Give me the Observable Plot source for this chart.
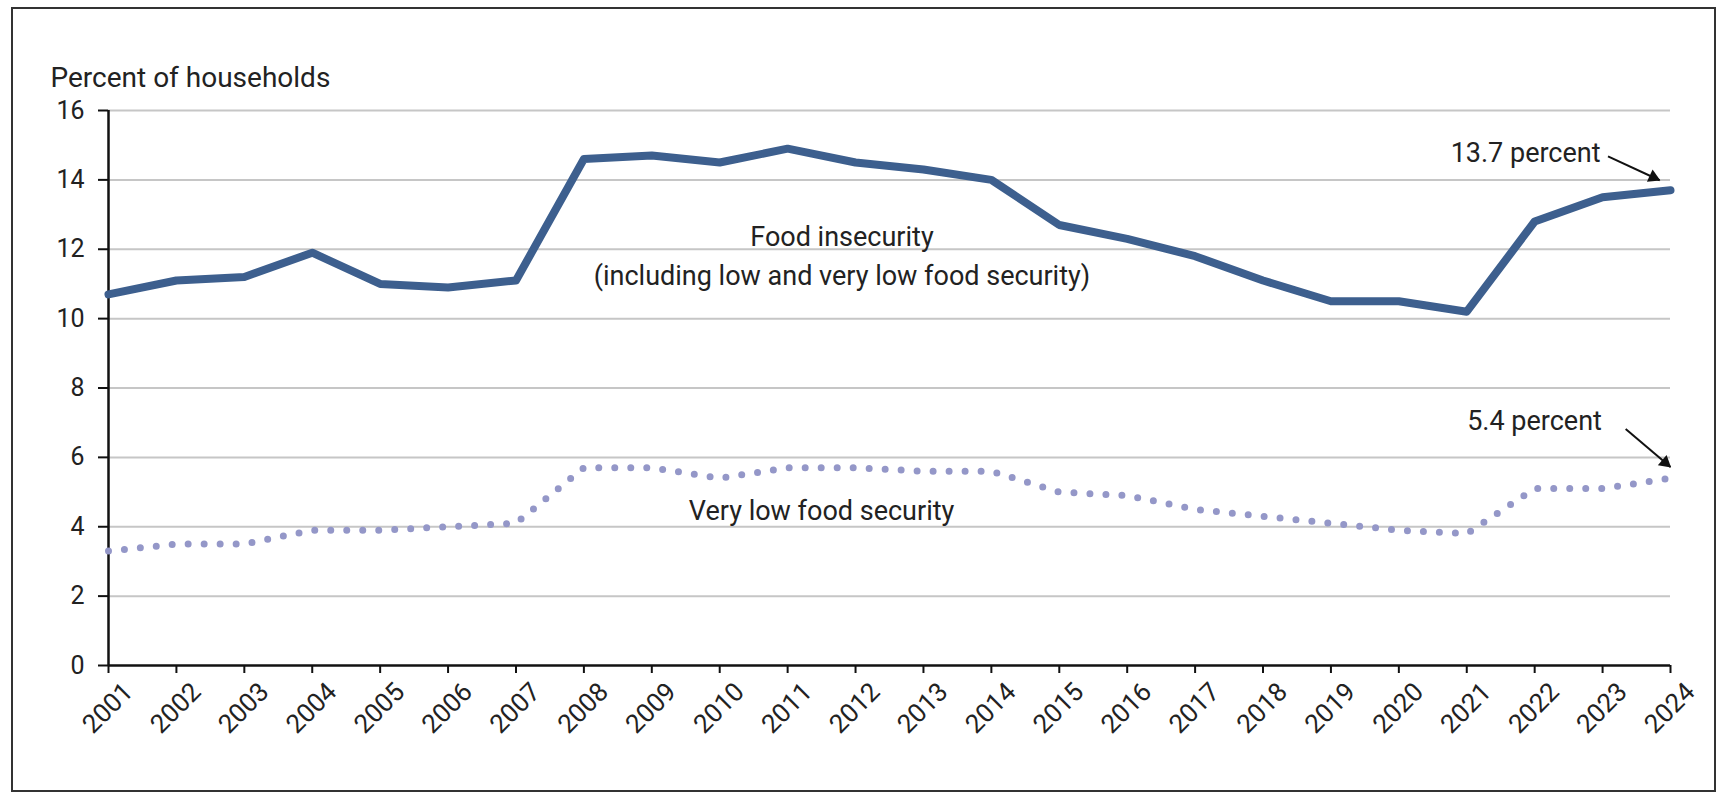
<!DOCTYPE html>
<html>
<head>
<meta charset="utf-8">
<script src="https://cdn.jsdelivr.net/npm/d3@7"></script>
<script src="https://cdn.jsdelivr.net/npm/@observablehq/plot@0.6"></script>
<style>
  html, body { margin: 0; padding: 0; background: #fff; }
  #wrap { position: relative; width: 1725px; height: 796px; overflow: hidden; }
  #border { position: absolute; left: 11px; top: 7px; width: 1705px; height: 785px; border: 2.5px solid #333; box-sizing: border-box; pointer-events: none; }
</style>
</head>
<body>
<div id="wrap"><div id="chart"></div><div id="border"></div></div>
<script>
const years = [2001, 2002, 2003, 2004, 2005, 2006, 2007, 2008, 2009, 2010, 2011, 2012,
               2013, 2014, 2015, 2016, 2017, 2018, 2019, 2020, 2021, 2022, 2023, 2024];
const foodInsecurity = [10.7, 11.1, 11.2, 11.9, 11.0, 10.9, 11.1, 14.6, 14.7, 14.5, 14.9, 14.5,
                        14.3, 14.0, 12.7, 12.3, 11.8, 11.1, 10.5, 10.5, 10.2, 12.8, 13.5, 13.7];
const veryLowFoodSecurity = [3.3, 3.5, 3.5, 3.9, 3.9, 4.0, 4.1, 5.7, 5.7, 5.4, 5.7, 5.7,
                             5.6, 5.6, 5.0, 4.9, 4.5, 4.3, 4.1, 3.9, 3.8, 5.1, 5.1, 5.4];
const yTicks = [0, 2, 4, 6, 8, 10, 12, 14, 16];
const yAxisTitle = "Percent of households";

// series labels (placed in data units)
const seriesLabelText = ["Food insecurity\n(including low and very low food security)", "Very low food security"];
const seriesLabelX = [2011.8, 2011.5];
const seriesLabelY = [11.9, 4.57];

// callouts
const calloutText = ["13.7 percent", "5.4 percent"];
const calloutTextX = [2022.97, 2022.99];
const calloutTextY = [14.77, 7.05];
const arrowFromX = [2023.08, 2023.34];
const arrowFromY = [14.68, 6.82];
const arrowToX = [2023.84, 2024.0];
const arrowToY = [13.99, 5.72];

const fiData = years.map((year, i) => ({year, value: foodInsecurity[i]}));
const vlData = years.map((year, i) => ({year, value: veryLowFoodSecurity[i]}));
const seriesLabels = seriesLabelText.map((text, i) => ({text, x: seriesLabelX[i], y: seriesLabelY[i]}));
const callouts = calloutText.map((text, i) => ({text, x: calloutTextX[i], y: calloutTextY[i]}));
const arrows = arrowFromX.map((x1, i) => ({x1, y1: arrowFromY[i], x2: arrowToX[i], y2: arrowToY[i]}));

const base = {
  width: 1725,
  height: 796,
  marginLeft: 108,
  marginRight: 55,
  marginTop: 110,
  marginBottom: 131,
  style: {fontFamily: "Roboto, 'Noto Sans', sans-serif", color: "#222", background: "transparent"},
  x: {domain: [2001, 2024]},
  y: {domain: [0, 16]}
};

// first pass to obtain the scales for the filled arrow heads
const probe = Plot.plot({...base, marks: [Plot.ruleY([0])]});
const xs = probe.scale("x"), ys = probe.scale("y");
const HEAD_BACK = 7;
const heads = arrows.map(a => {
  const px1 = xs.apply(a.x1), py1 = ys.apply(a.y1), px2 = xs.apply(a.x2), py2 = ys.apply(a.y2);
  const len = Math.hypot(px2 - px1, py2 - py1);
  const ux = (px2 - px1) / len, uy = (py2 - py1) / len;
  return {
    x: xs.invert(px2 - ux * HEAD_BACK),
    y: ys.invert(py2 - uy * HEAD_BACK),
    angle: Math.atan2(ux, -uy) * 180 / Math.PI
  };
});

const chart = Plot.plot({
  ...base,
  marks: [
    Plot.gridY(yTicks.filter(d => d > 0), {stroke: "#c6c6c6", strokeOpacity: 1, strokeWidth: 2}),
    Plot.axisY({ticks: yTicks, tickSize: 10, tickPadding: 14, fontSize: 25, label: null, stroke: "#111", strokeWidth: 2}),
    // tick marks only
    Plot.axisX({ticks: years, tickFormat: () => "", tickSize: 8, label: null, stroke: "#111", strokeWidth: 2}),
    // rotated tick labels only
    Plot.axisX({ticks: years, tickFormat: "d", tickRotate: -45, tickSize: 0, tickPadding: 22, dx: 20, fontSize: 26, label: null}),
    Plot.ruleY([0], {stroke: "#111", strokeWidth: 2.5}),
    Plot.ruleX([2001], {y1: 0, y2: 16, stroke: "#111", strokeWidth: 2.5}),
    Plot.line(vlData, {x: "year", y: "value", stroke: "#9497c8", strokeWidth: 7, strokeDasharray: "0 16", strokeLinecap: "round"}),
    Plot.line(fiData, {x: "year", y: "value", stroke: "#3d5f8e", strokeWidth: 8, strokeLinejoin: "round", strokeLinecap: "round"}),
    Plot.text(seriesLabels, {x: "x", y: "y", text: "text", fontSize: 27, lineHeight: 1.48, fill: "#222", textAnchor: "middle"}),
    Plot.text(callouts, {x: "x", y: "y", text: "text", fontSize: 27, fill: "#222", textAnchor: "end"}),
    Plot.link(arrows, {x1: "x1", y1: "y1", x2: "x2", y2: "y2", stroke: "#111", strokeWidth: 2}),
    Plot.dot(heads, {x: "x", y: "y", rotate: "angle", symbol: "triangle", r: 5, fill: "#111", stroke: "none"}),
    Plot.text([yAxisTitle], {frameAnchor: "top-left", dx: -58, dy: -43, text: d => d, textAnchor: "start", fontSize: 28, fill: "#222"})
  ]
});
document.getElementById("chart").appendChild(chart);
</script>
</body>
</html>
